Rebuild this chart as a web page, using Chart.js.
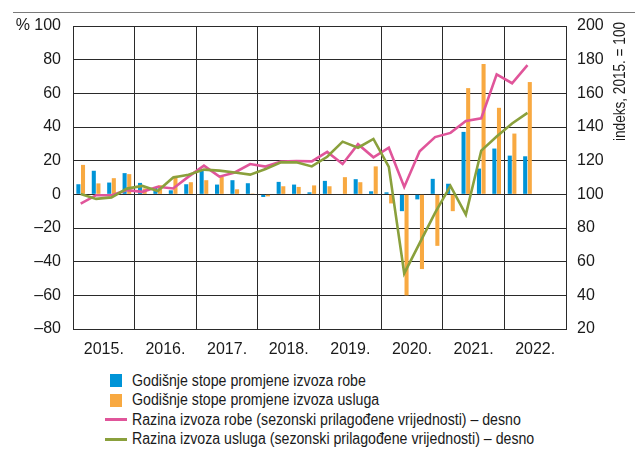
<!DOCTYPE html>
<html>
<head>
<meta charset="utf-8">
<script src="https://cdn.jsdelivr.net/npm/chart.js@4"></script>
<style>
  body { margin: 0; width: 635px; height: 450px; background: #fff; position: relative; overflow: hidden;
         font-family: 'Liberation Sans Narrow', 'Arial Narrow', 'Liberation Sans', sans-serif; color: #1a1a1a; }
  .rule { position: absolute; left: 13px; right: 0; top: 12px; border-top: 1px solid #7a7a7a; }
  #wrap { position: absolute; left: 0; top: 0; width: 635px; height: 362px; }
  #legend { position: absolute; left: 105px; top: 371px; font-size: 16px; }
  .item { height: 19.5px; display: flex; align-items: center; white-space: nowrap; }
  .sw { width: 22px; display: flex; justify-content: center; margin-right: 5px; }
  .box { width: 12px; height: 13px; }
  .ln { width: 22px; height: 3px; }
  .txt { display: inline-block; transform: scaleX(0.885); transform-origin: 0 50%; }
</style>
</head>
<body>
<div class="rule"></div>
<div id="wrap"><canvas id="chart" width="635" height="362"></canvas></div>
<div id="legend"></div>
<script>
// godine na osi x (svaka ima 4 tromjesečja)
const years = ['2015.', '2016.', '2017.', '2018.', '2019.', '2020.', '2021.', '2022.'];
const quarters = ['2015.', '2016.', '2017.', '2018.', '2019.', '2020.', '2021.', '2022.']
  .flatMap(y => ['Q1', 'Q2', 'Q3', 'Q4'].map(q => y + q));

// godišnje stope promjene (%), lijeva os
const robeRate = [6, 14, 7, 12.6, 6.8, 4, 2.4, 6, 14.7, 5.8, 8.4, 6.6, -1.6, 7.4, 5.8, 1.2,
  8, 0.3, 9, 1.8, 1.2, -10, -3, 9.2, 6.3, 37.1, 15.3, 27.2, 23, 22.6];
const uslugeRate = [17.5, 6.5, 9.6, 12, 3.5, 5.4, 11, 7.2, 8.4, 10.4, 3, 0.5, -1.2, 4.8, 4.4, 5.3,
  4.8, 10.2, 7.2, 16.6, -5.4, -60, -44.4, -30.6, -10, 63.1, 77.4, 51.4, 36.1, 66.7];

// razine izvoza (indeks, 2015. = 100), desna os
const robeLevel = [94.5, 99.5, 99.5, 102.5, 101.5, 104.5, 103.5, 110.5, 117, 110.5, 113, 118,
  116.5, 119.5, 119.8, 119.6, 125.2, 118, 129.8, 122, 127.7, 104.4, 125.6, 134,
  136.5, 143.6, 145.2, 171.3, 166, 176.8];
const uslugeLevel = [100.2, 97.3, 98.2, 103.4, 105, 102, 110, 111.6, 114.7, 114.1, 113, 111.7,
  115, 119, 119, 116.6, 122.3, 131.3, 127.7, 132.9, 116.3, 53, 71, 89,
  105, 88, 126, 134.4, 142.1, 148.4];

const leftTicks = [-80, 100];
const rightTicks = [20, 200];

const BLUE = '#0094d7', ORANGE = '#f8a941', PINK = '#e0559a', GREEN = '#8aa03c';
const FONT = "'Liberation Sans Narrow', 'Arial Narrow', 'Liberation Sans', sans-serif";
const GRID = '#2a2a2a';

const labels = [
  'Godišnje stope promjene izvoza robe',
  'Godišnje stope promjene izvoza usluga',
  'Razina izvoza robe (sezonski prilagođene vrijednosti) – desno',
  'Razina izvoza usluga (sezonski prilagođene vrijednosti) – desno'
];

// naslov desne osi, čita se odozdo prema gore
const rightTitle = {
  id: 'rightTitle',
  afterDraw(chart) {
    const ctx = chart.ctx;
    ctx.save();
    ctx.translate(621, 22);
    ctx.rotate(-Math.PI / 2);
    ctx.font = '16px ' + FONT;
    ctx.fillStyle = '#1a1a1a';
    ctx.textAlign = 'right';
    ctx.textBaseline = 'middle';
    ctx.fillText('indeks, 2015. = 100', 0, 0, 119);
    ctx.restore();
  }
};

const dash = v => String(v).replace('-', '–');

new Chart(document.getElementById('chart'), {
  data: {
    labels: quarters,
    datasets: [
      { type: 'line', label: labels[3], data: uslugeLevel, yAxisID: 'y1', borderColor: GREEN,
        borderWidth: 2.6, pointRadius: 0, tension: 0, order: 0 },
      { type: 'line', label: labels[2], data: robeLevel, yAxisID: 'y1', borderColor: PINK,
        borderWidth: 2.6, pointRadius: 0, tension: 0, order: 1 },
      { type: 'bar', label: labels[0], data: robeRate, yAxisID: 'y', backgroundColor: BLUE, order: 2 },
      { type: 'bar', label: labels[1], data: uslugeRate, yAxisID: 'y', backgroundColor: ORANGE, order: 2 }
    ]
  },
  options: {
    responsive: false,
    animation: false,
    events: [],
    layout: { padding: { top: 26, left: 0, right: 0, bottom: 0 } },
    datasets: { bar: { categoryPercentage: 0.6, barPercentage: 0.88 } },
    plugins: { legend: { display: false }, tooltip: { enabled: false } },
    scales: {
      x: { display: false, offset: true },
      x2: {
        type: 'category', labels: years, position: 'bottom', offset: true,
        grid: { offset: true, color: GRID, lineWidth: 1, drawTicks: false },
        border: { color: GRID },
        ticks: { color: '#1a1a1a', padding: 11, font: { family: FONT, size: 16 } },
        afterFit: s => { s.height = 33; }
      },
      y: {
        position: 'left', min: leftTicks[0], max: leftTicks[1],
        ticks: { stepSize: 20, padding: 12, color: '#1a1a1a', font: { family: FONT, size: 16 },
          callback: v => v === 100 ? '% 100' : dash(v) },
        grid: { color: GRID, lineWidth: 1, drawTicks: false },
        border: { color: GRID },
        afterFit: s => { s.width = 73; }
      },
      y1: {
        position: 'right', min: rightTicks[0], max: rightTicks[1],
        ticks: { stepSize: 20, padding: 11, color: '#1a1a1a', font: { family: FONT, size: 16 } },
        grid: { display: false, drawTicks: false },
        border: { color: GRID },
        afterFit: s => { s.width = 69; }
      }
    }
  },
  plugins: [rightTitle]
});

// legenda ispod grafikona
const legendItems = [
  { text: labels[0], color: BLUE, kind: 'box' },
  { text: labels[1], color: ORANGE, kind: 'box' },
  { text: labels[2], color: PINK, kind: 'ln' },
  { text: labels[3], color: GREEN, kind: 'ln' }
];
const leg = document.getElementById('legend');
legendItems.forEach(it => {
  const row = document.createElement('div');
  row.className = 'item';
  row.innerHTML = '<span class="sw"><span class="' + it.kind + '" style="background:' + it.color +
    '"></span></span><span class="txt"></span>';
  row.lastChild.textContent = it.text;
  leg.appendChild(row);
});
</script>
</body>
</html>
